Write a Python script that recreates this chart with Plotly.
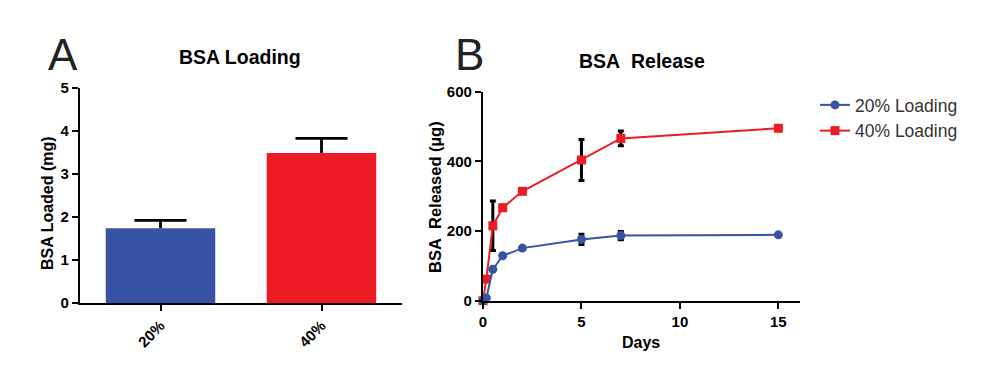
import plotly.graph_objects as go

# Panel A data
groups = ["20%", "40%"]
loading_mg = [1.74, 3.49]
loading_err = [0.18, 0.34]
bar_colors = ["#3953A4", "#ED1C24"]

# Panel B data
days = [0, 0.17, 0.5, 1, 2, 5, 7, 15]
rel_20 = [0, 8, 90, 129, 151, 176, 187, 189]
err_20 = [0, 0, 0, 0, 0, 15, 12, 0]
rel_40 = [0, 62, 215, 267, 314, 404, 466, 495]
err_40 = [0, 0, 71, 0, 0, 59, 21, 0]

W, H = 989, 391
OFF = 8  # page offset of the figure in the browser
def px(x):
    return (x - OFF) / W
def py(y):
    return (H - (y - OFF)) / H

FONT = "Liberation Sans, Arial, sans-serif"

fig = go.Figure()
# bars with upward-only error stems (no caps)
fig.add_trace(go.Bar(
    x=groups, y=loading_mg, marker=dict(color=bar_colors, line=dict(width=0)),
    width=0.68,
    error_y=dict(type="data", array=loading_err, arrayminus=[0, 0], symmetric=False,
                 color="black", thickness=2.8, width=0),
    xaxis="x", yaxis="y", showlegend=False, hoverinfo="skip"))
# caps at the top of the error bars
tops = [v + e for v, e in zip(loading_mg, loading_err)]
fig.add_trace(go.Scatter(
    x=groups, y=tops, mode="markers", marker=dict(size=1, opacity=0),
    error_y=dict(type="data", array=[0, 0], color="black", thickness=2.8, width=26),
    xaxis="x", yaxis="y", showlegend=False, hoverinfo="skip", cliponaxis=False))

fig.add_trace(go.Scatter(
    x=days, y=rel_40, mode="lines+markers", name="40% Loading",
    line=dict(color="#ED1C24", width=2),
    marker=dict(symbol="square", size=9, color="#ED1C24"),
    error_y=dict(type="data", array=err_40, color="black", thickness=3, width=3),
    xaxis="x2", yaxis="y2", cliponaxis=False, legendrank=2))
fig.add_trace(go.Scatter(
    x=days, y=rel_20, mode="lines+markers", name="20% Loading",
    line=dict(color="#3953A4", width=2),
    marker=dict(symbol="circle", size=9, color="#3953A4"),
    error_y=dict(type="data", array=err_20, color="black", thickness=3, width=3),
    xaxis="x2", yaxis="y2", cliponaxis=False, legendrank=1))

axis_common = dict(showline=True, linecolor="black", linewidth=2.2, ticks="outside",
                   tickcolor="black", tickwidth=2.2, ticklen=6, showgrid=False,
                   zeroline=False, automargin=False,
                   tickfont=dict(family=FONT, size=15, color="black", weight="bold"))

fig.update_layout(
    width=W, height=H, margin=dict(l=0, r=0, t=0, b=0, pad=0, autoexpand=False),
    paper_bgcolor="white", plot_bgcolor="white",
    font=dict(family=FONT),
    xaxis=dict(domain=[px(80), px(402)], range=[-0.5, 1.5], tickangle=-45,
               anchor="y", **axis_common),
    yaxis=dict(domain=[py(303), py(88)], range=[0, 5], dtick=1, anchor="x",
               **axis_common),
    xaxis2=dict(domain=[px(483), px(800)], range=[0, 16.1], tickvals=[0, 5, 10, 15],
                anchor="y2", **axis_common),
    yaxis2=dict(domain=[py(300.7), py(91.7)], range=[0, 600], tickvals=[0, 200, 400, 600],
                anchor="x2", **axis_common),
    legend=dict(x=px(815), y=py(87), xanchor="left", yanchor="top",
                font=dict(family=FONT, size=17.5, color="#333333"),
                bgcolor="rgba(0,0,0,0)", tracegroupgap=0),
    showlegend=True,
)

def ann(text, x, y, size, bold=True, angle=0, color="black"):
    fig.add_annotation(text=text, x=px(x), y=py(y), xref="paper", yref="paper",
                       showarrow=False, textangle=angle, xanchor="center", yanchor="middle",
                       font=dict(family=FONT, size=size, color=color,
                                 weight="bold" if bold else "normal"))

ann("A", 63, 54, 44, bold=False, color="#222222")
ann("B", 469, 55, 44, bold=False, color="#222222")
ann("BSA Loading", 240, 57, 19.5)
ann("BSA&nbsp;&nbsp;Release", 642, 61, 19.5)
ann("BSA Loaded (mg)", 47, 203, 16, angle=-90)
ann("BSA&nbsp;&nbsp;Released (µg)", 435, 197, 16.5, angle=-90)
ann("Days", 641, 342, 16)

fig.write_html("out.html")
